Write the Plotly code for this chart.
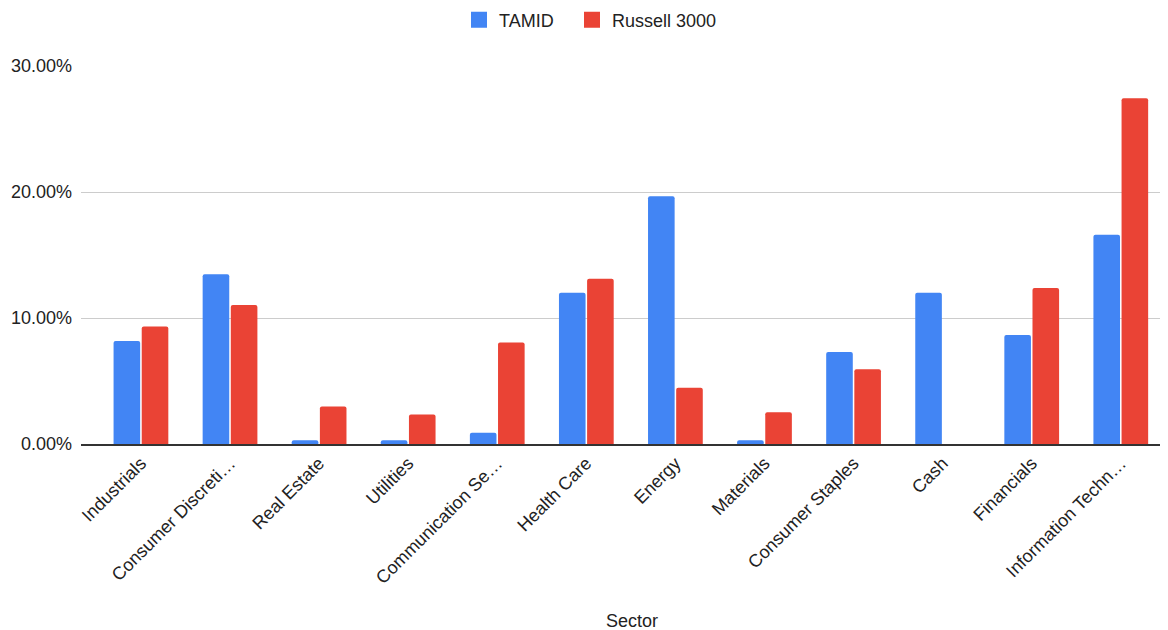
import plotly.graph_objects as go

sectors = ["Industrials", "Consumer Discreti…", "Real Estate", "Utilities",
           "Communication Se…", "Health Care", "Energy", "Materials",
           "Consumer Staples", "Cash", "Financials", "Information Techn…"]
tamid = [8.18, 13.48, 0.29, 0.29, 0.90, 12.01, 19.66, 0.29, 7.31, 12.01, 8.65, 16.60]
russell = [9.32, 11.03, 2.98, 2.35, 8.05, 13.12, 4.46, 2.51, 5.94, 0.0, 12.38, 27.45]
ytick_vals = [0, 10, 20, 30]
ytick_text = ["0.00%", "10.00%", "20.00%", "30.00%"]
series_names = ["TAMID", "Russell 3000"]
series_colors = ["#4285F4", "#EA4335"]

FONT = "Liberation Sans, Arial, sans-serif"
TXT = "#222222"

fig = go.Figure()
for name, vals, col in zip(series_names, [tamid, russell], series_colors):
    fig.add_trace(go.Bar(name=name, x=sectors, y=vals, showlegend=False,
                         marker=dict(color=col, cornerradius=2, line=dict(width=0))))
# legend-only entries with larger square swatches, one legend box each
for name, col, lg in zip(series_names, series_colors, ["legend", "legend2"]):
    fig.add_trace(go.Scatter(name=name, x=[None], y=[None], mode="markers",
                             marker=dict(symbol="square", size=16, color=col),
                             showlegend=True, hoverinfo="skip", legend=lg))

legend_common = dict(orientation="h", xref="container", xanchor="left",
                     yref="container", y=1 - 12 / 622, yanchor="middle",
                     font=dict(size=18, color=TXT), itemwidth=30,
                     bgcolor="rgba(0,0,0,0)")

fig.update_layout(
    width=1160, height=622,
    margin=dict(l=73, r=0, t=58, b=186),
    paper_bgcolor="white", plot_bgcolor="white",
    barmode="group", bargap=0.368, bargroupgap=0.055,
    font=dict(family=FONT, size=18, color=TXT),
    legend=dict(x=451 / 1160, **legend_common),
    legend2=dict(x=564 / 1160, **legend_common),
)
fig.update_xaxes(
    type="category", range=[-0.673, 11.53],
    tickangle=-45, tickfont=dict(size=18, color=TXT),
    showgrid=False, showline=True, linecolor="#333333", linewidth=1.5,
    ticks="", automargin=False,
)
fig.update_yaxes(
    range=[0, 30], tickvals=ytick_vals, ticktext=ytick_text,
    tickfont=dict(size=18, color=TXT),
    showgrid=True, gridcolor="#cccccc", gridwidth=1,
    zeroline=False, showline=False, ticks="", ticklabelstandoff=8,
    automargin=False,
)
fig.add_annotation(text="Sector", xref="paper", yref="paper", x=0.507, y=-0.468,
                   showarrow=False, font=dict(size=18, color=TXT),
                   xanchor="center", yanchor="middle")

fig.write_html("out.html")
